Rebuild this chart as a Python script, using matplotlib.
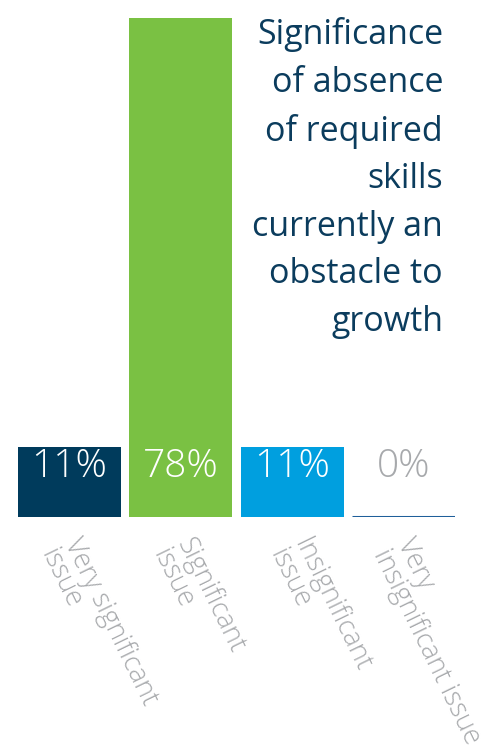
import numpy as np
import matplotlib.pyplot as plt

categories = ['Very significant\nissue', 'Significant\nissue',
              'Insignificant\nissue', 'Very\ninsignificant issue']
values = [11, 78, 11, 0]
labels = ['11%', '78%', '11%', '0%']
colors = ['#003b5c', '#7ac143', '#009fdf', '#1f5f9a']
title = ('Significance\nof absence\nof required\nskills\n'
         'currently an\nobstacle to\ngrowth')

W, H = 499, 749
fig = plt.figure(figsize=(W / 100, H / 100), dpi=100)
ax = fig.add_axes([18 / W, (H - 517) / H, (455 - 18) / W, (517 - 18) / H])

x = np.arange(len(values))
width = 0.924
for i, v in enumerate(values):
    if v > 0:
        ax.bar(x[i], v, width=width, color=colors[i])
    else:
        # empty category only gets a baseline stroke
        ax.hlines(0, x[i] - width / 2, x[i] + width / 2, color=colors[i], lw=2.2)

ax.set_xlim(-0.462, 3.462)
ax.set_ylim(0, 78)
ax.axis('off')

for i, lab in enumerate(labels):
    c = 'white' if values[i] > 0 else '#a7a9ac'
    ax.text(x[i], 6.2, lab, ha='center', va='baseline', color=c,
            fontsize=28, family='Open Sans', fontweight='light')

offs = [0.12, 0.13, 0.18, 0.11]
for i, cat in enumerate(categories):
    ax.text(x[i] + offs[i], -2.6, cat, rotation=-64, rotation_mode='anchor',
            ha='left', va='top', multialignment='left', color='#a7a9ac',
            fontsize=19.5, family='Open Sans', fontweight='light',
            linespacing=0.9, clip_on=False)

fig.text(443 / W, 1 - 17 / H, title, ha='right', va='top', multialignment='right',
         color='#0b3c5d', fontsize=24.5, family='Open Sans', linespacing=1.52)

fig.savefig('out.png', dpi=100)
